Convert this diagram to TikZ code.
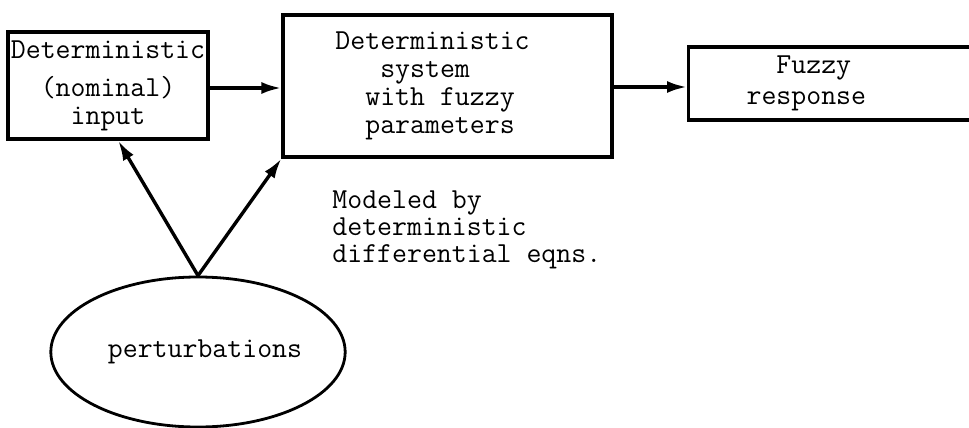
\documentclass[tikz,border=0pt]{standalone}
\usepackage{fontspec}
\usepackage{tikz}
\usetikzlibrary{
  arrows.meta,
  positioning,
  calc,
  shapes.geometric
}

\begin{document}
\begin{tikzpicture}[
  x=0.5pt,y=-0.5pt,
  font=\ttfamily\fontsize{14.5}{14}\selectfont,
  >={Latex[length=10pt,width=6pt]},
  block/.style={
    draw,
    line width=1.6pt,
    inner sep=0pt,
    align=center
  },
  blob/.style={
    ellipse,
    draw,
    line width=1.4pt,
    inner sep=0pt,
    minimum width=115pt,
    minimum height=75pt
  },
  flow/.style={->,line width=1.7pt}
]
\clip (0,0) rectangle (969,428);

\node[block,minimum width=100pt,minimum height=53.5pt] (input) at (108,85.5)
  {Deterministic\\[5pt](nominal)\\[0pt]input};
\node[block,align=left,minimum width=164.5pt,minimum height=71pt] (system) at (447.5,86)
  {Deterministic\phantom{xx}\\
   \phantom{xxx}system\\
   \phantom{xx}with fuzzy\\
   \phantom{xx}parameters};
\node[block,align=left,anchor=west,text width=150pt,minimum height=36.5pt,
  inner xsep=29pt] (response) at (687,83.5)
  {\phantom{xx}Fuzzy\\[1.5pt]response};
\node[anchor=north west,align=left,inner sep=0pt,
  font=\ttfamily\fontsize{14.5}{13.5}\selectfont] (model) at (332,190)
  {Modeled by\\deterministic\\differential eqns.};
\node[blob] (pert) at (198,352) {\hspace*{7pt}perturbations};

\draw[flow] (input.east |- 0,88) -- (system.west |- 0,88);
\draw[flow] (system.east |- 0,87) -- (response.west |- 0,87);
\draw[flow] (pert.north) -- ($(input.south west)!0.55!(input.south east)$);
\draw[flow] (pert.north) -- (system.south west);
\end{tikzpicture}
\end{document}
